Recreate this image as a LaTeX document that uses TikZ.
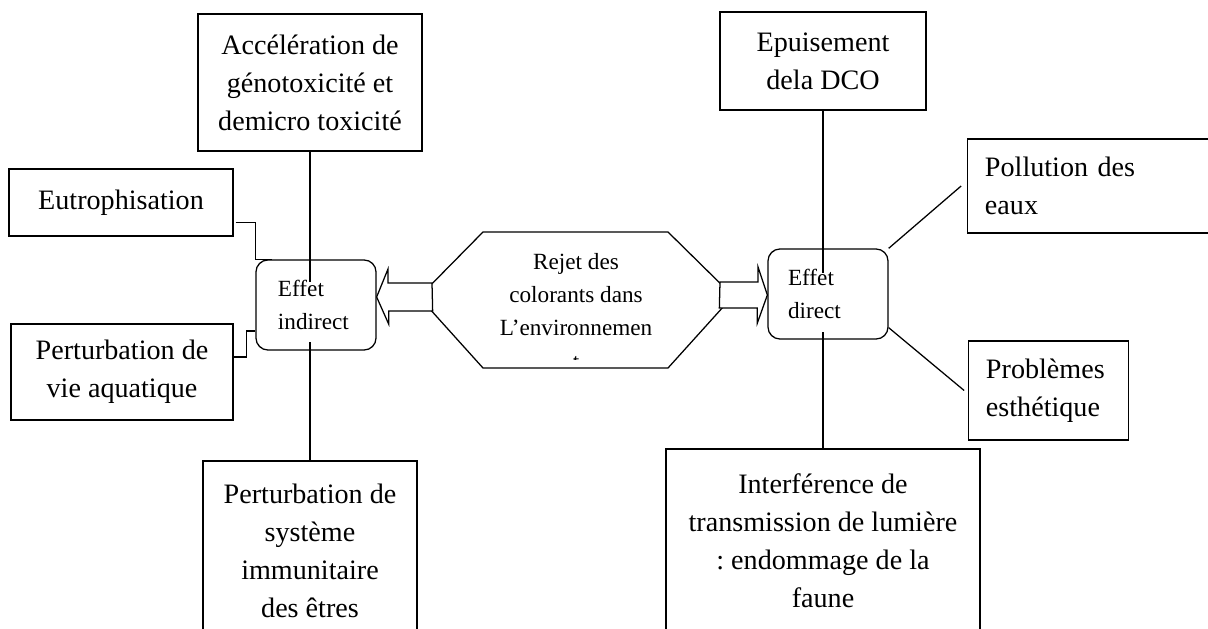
\documentclass[tikz,border=0pt]{standalone}
\usepackage{fontspec}
\setmainfont{Liberation Serif}
\frenchspacing

\begin{document}
\begin{tikzpicture}
  [x=0.025cm,y=-0.025cm,line width=0.9pt,
   every node/.style={draw,rectangle,inner sep=0pt,font=\fontsize{20}{27}\selectfont}]

  \tikzstyle{box}     = [align=center]
  \tikzstyle{sidebox} = [align=left,inner xsep=0.43cm]
  \tikzstyle{effet}   = [rounded corners=0.3cm,minimum height=2.25cm,align=left,
                         inner xsep=0.5cm,font=\fontsize{16.5}{23.5}\selectfont]
  \tikzstyle{fat}     = [fill=white]

  \useasboundingbox (0,0) rectangle (1208,629);

  % left side
  \node[box,minimum width=5.6cm,minimum height=3.425cm]  (acc) at (310,82.5) {Accélération de\\génotoxicité et\\demicro toxicité};
  \node[box,minimum width=5.6cm,minimum height=1.675cm]  (eut) at (121,202.5) {Eutrophisation};
  \node[box,minimum width=5.55cm,minimum height=2.4cm]   (vie) at (122,372) {Perturbation de\\vie aquatique};
  \node[box,minimum width=5.35cm,minimum height=4.5cm]   (sys) at (310,551) {Perturbation de\\système\\immunitaire\\des êtres};
  \node[effet,text width=1.9cm,inner xsep=0.55cm]        (ind) at (316,305) {Effet\\indirect};

  % right side
  \node[box,minimum width=5.15cm,minimum height=2.45cm]  (epu) at (823,61) {Epuisement\\dela DCO};
  \node[box,minimum width=7.85cm,minimum height=4.6cm]   (int) at (823,541) {Interférence de\\transmission de lumière\\: endommage de la\\faune};
  \node[sidebox,text width=5.65cm,minimum height=2.35cm] (pol) at (1098,186) {Pollution des\\eaux};
  \node[sidebox,text width=3.125cm,minimum height=2.475cm] (pro) at (1048.5,390.5) {Problèmes\\esthétique};
  \node[effet,text width=2cm]                            (dir) at (828,294) {Effet\\direct};

  % centre
  \draw (483,232) -- (668,232) -- (733,296) -- (668,368) -- (483,368) -- (419,297) -- cycle;
  \begin{scope}
    \clip (420,225) rectangle (735,359);
    \node[draw=none,align=center,font=\fontsize{16.5}{23.5}\selectfont] (rej) at (576,311.5)
      {Rejet des\\colorants dans\\L’environnemen\\t};
  \end{scope}
  \coordinate (rejW) at (432,297);
  \coordinate (rejE) at (720,295);

  \draw[fat] (rejW) ++(0,-14) -- ++(-44,0) -- ++(0,-14) -- (ind.east |- rejW)
             -- ++(12,27) -- ++(0,-13) -- ++(44,0) -- cycle;
  \draw[fat] (rejE) ++(0,-13) -- ++(38,0) -- ++(0,-15) -- (dir.west |- rejE)
             -- ++(-10,28) -- ++(0,-15) -- ++(-38,0) -- cycle;

  % connectors
  \draw (acc.south) -- ++(0,130);
  \draw (sys.north) -- ++(0,-118);
  \draw (eut.east) ++(2,20) -| (ind.north west) -- ++(17,0);
  \draw (vie.east) ++(0,-15) -- ++(13,0) |- ([yshift=-0.65cm]ind.west);
  \draw (epu.south) -- ++(0,162);
  \draw (int.north) -- ++(0,-116);
  \draw (dir.north east) -- ([xshift=-0.15cm]pol.west);
  \draw ([yshift=0.3cm]dir.south east) -- ([xshift=-0.1cm]pro.west);
\end{tikzpicture}
\end{document}
